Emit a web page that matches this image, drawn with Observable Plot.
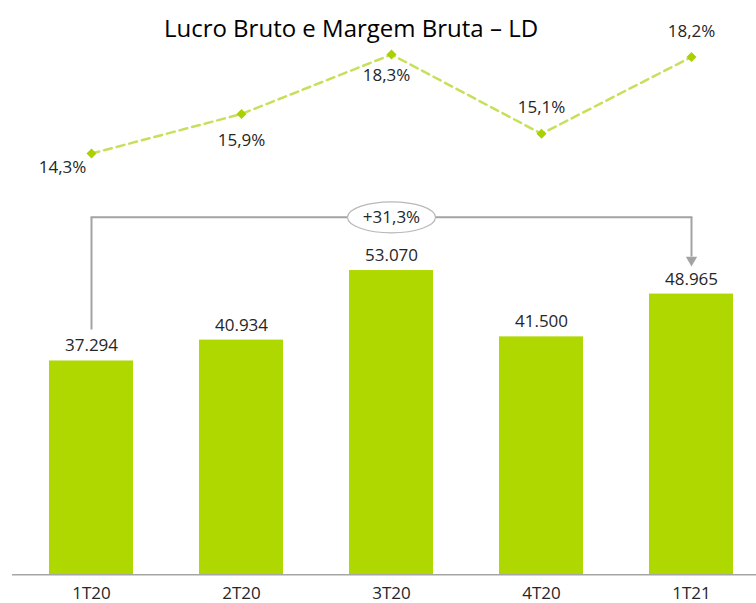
<!DOCTYPE html>
<html><head><meta charset="utf-8">
<script src="https://cdn.jsdelivr.net/npm/d3@7"></script>
<script src="https://cdn.jsdelivr.net/npm/@observablehq/plot@0.6"></script>
<style>
body{margin:0;background:#fff;font-family:"Open Sans",sans-serif;}
#wrap{position:relative;width:756px;height:603px;overflow:hidden;}
#title{position:absolute;left:0;top:11px;width:702px;text-align:center;font-size:24px;color:#000;white-space:nowrap;}
#bars{position:absolute;left:0;top:45px;}
#line{position:absolute;left:0;top:45px;pointer-events:none;}
</style></head><body>
<div id="wrap">
  <div id="title">Lucro Bruto e Margem Bruta – LD</div>
  <div id="bars"></div>
  <div id="line"></div>
</div>
<script>
const quarters = ["1T20", "2T20", "3T20", "4T20", "1T21"];
const grossProfit = [37294, 40934, 53070, 41500, 48965];
const grossMargin = [14.3, 15.9, 18.3, 15.1, 18.2];

const locale = d3.formatLocale({decimal: ",", thousands: ".", grouping: [3], currency: ["R$", ""]});
const fmtInt = locale.format(",d");
const fmtPct = locale.format(".1f");

const barData = quarters.map((q, i) => ({q, v: grossProfit[i]}));
const lineData = quarters.map((q, i) => ({q, m: grossMargin[i]}));

const W = 756, H = 558;
const xOpts = {type: "band", domain: quarters, paddingInner: 0.44, paddingOuter: 0.188, align: 0.616};
const textColor = "#262626";
const barColor = "#afd700";
const bracketColor = "#a3a3a3";

const first = barData[0], last = barData[barData.length - 1];
const mid = barData[Math.floor(barData.length / 2)];
const level = d3.max(grossProfit) * 1.175;
const growth = last.v / first.v - 1;
const growthLabel = (growth >= 0 ? "+" : "") + fmtPct(growth * 100) + "%";

const ellipse = {
  draw(ctx) {
    const rx = 44, ry = 15.5, k = 0.5523;
    ctx.moveTo(rx, 0);
    ctx.bezierCurveTo(rx, ry * k, rx * k, ry, 0, ry);
    ctx.bezierCurveTo(-rx * k, ry, -rx, ry * k, -rx, 0);
    ctx.bezierCurveTo(-rx, -ry * k, -rx * k, -ry, 0, -ry);
    ctx.bezierCurveTo(rx * k, -ry, rx, -ry * k, rx, 0);
    ctx.closePath();
  }
};

const barPlot = Plot.plot({
  width: W, height: H,
  marginLeft: 12, marginRight: 0, marginTop: 185.3, marginBottom: 28.7,
  style: {fontFamily: "'Open Sans', sans-serif", fontSize: "17px", color: textColor, background: "transparent", overflow: "visible"},
  x: {...xOpts, axis: "bottom", tickSize: 0, tickPadding: 12, label: null},
  y: {domain: [0, 60000], axis: null},
  marks: [
    Plot.barY(barData, {x: "q", y: "v", fill: barColor}),
    Plot.ruleY([0], {stroke: "#a6a6a6", strokeWidth: 1.5}),
    Plot.text(barData, {x: "q", y: "v", text: d => fmtInt(d.v), dy: -15, fill: textColor, fontSize: 17}),
    // bracket
    Plot.ruleX([first], {x: "q", y1: () => level, y2: "v", insetBottom: 31, stroke: bracketColor, strokeWidth: 2}),
    Plot.line([first, last], {x: "q", y: () => level, stroke: bracketColor, strokeWidth: 2}),
    Plot.ruleX([last], {x: "q", y1: () => level, y2: "v", insetBottom: 37, stroke: bracketColor, strokeWidth: 2}),
    Plot.dot([last], {x: "q", y: "v", symbol: "triangle", rotate: 180, r: 4.2, fill: bracketColor, stroke: "none", dy: -34}),
    Plot.dot([mid], {x: "q", y: () => level, symbol: ellipse, fill: "white", stroke: "#b8b8b8", strokeWidth: 1.2}),
    Plot.text([mid], {x: "q", y: () => level, text: () => growthLabel, fill: textColor, fontSize: 17})
  ]
});
document.getElementById("bars").appendChild(barPlot);

const offsets = [[-29, 14], [0, 27], [-5, 21], [0, -26], [0, -25]];
const linePlot = Plot.plot({
  width: W, height: H,
  marginLeft: 12, marginRight: 0, marginTop: 4.1, marginBottom: 442.5,
  style: {fontFamily: "'Open Sans', sans-serif", fontSize: "17px", color: textColor, background: "transparent", overflow: "visible"},
  x: {...xOpts, axis: null},
  y: {domain: [14, 18.5], axis: null},
  marks: [
    Plot.line(lineData, {x: "q", y: "m", stroke: "#c6e05c", strokeWidth: 2.5, strokeDasharray: "8,5"}),
    Plot.dot(lineData, {x: "q", y: "m", symbol: "diamond2", r: 4.5, fill: "#a9d000", stroke: "none"}),
    ...quarters.map((q, i) => Plot.text(lineData.filter(d => d.q === q), {
      x: "q", y: "m", text: d => fmtPct(d.m) + "%", dx: offsets[i][0], dy: offsets[i][1], fill: textColor, fontSize: 17
    }))
  ]
});
document.getElementById("line").appendChild(linePlot);
</script>
</body></html>
